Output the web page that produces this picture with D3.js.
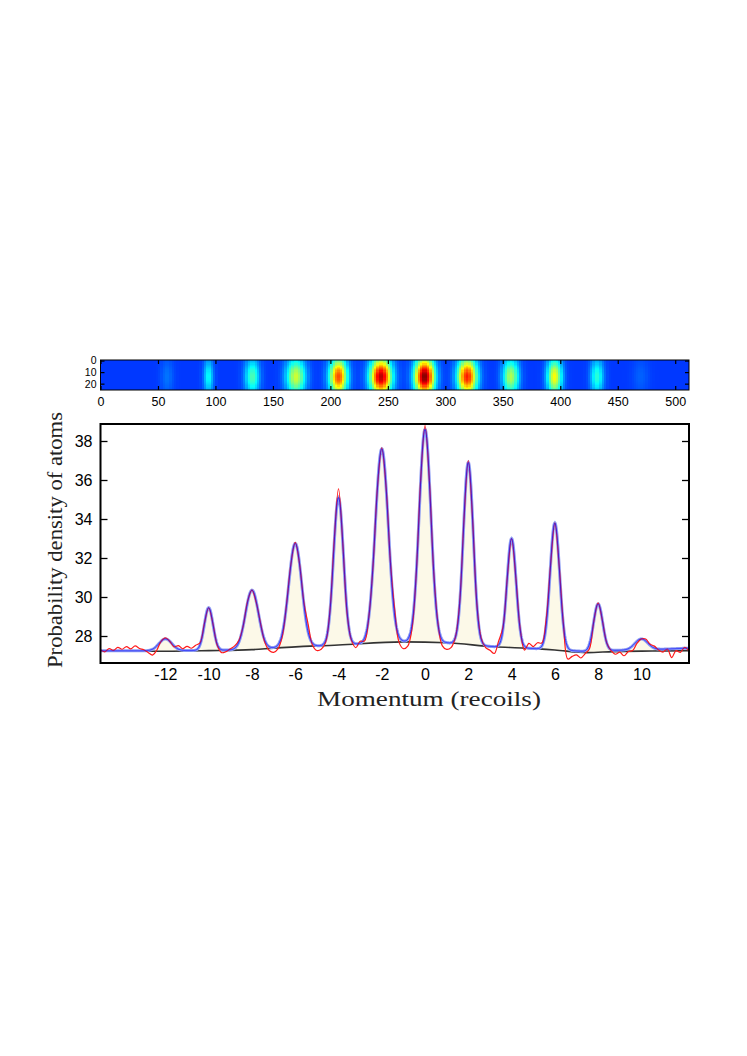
<!DOCTYPE html>
<html>
<head>
<meta charset="utf-8">
<script src="https://cdn.jsdelivr.net/npm/d3@7"></script>
<style>
  body { margin: 0; background: #fff; }
</style>
</head>
<body>
<svg id="fig" width="747" height="1056"></svg>
<script>
// fitted peaks: momentum (recoils), top of the blue fit, gaussian width
const peakMomentum = [-12.0, -10.0, -8.0, -6.0, -4.0, -2.0, 0.0, 2.0, 4.0, 6.0, 8.0, 10.0];
const peakTop      = [27.85, 29.45, 30.35, 32.75, 35.1, 37.6, 38.6, 36.9, 33.0, 33.8, 29.65, 27.85];
const peakWidth    = [0.3, 0.2, 0.3, 0.3, 0.23, 0.3, 0.27, 0.23, 0.21, 0.22, 0.21, 0.3];

// slowly varying background: black line and the fit's own background
const baseKnots = [-15, -12, -10, -8, -7, -4, -1, 1, 3.2, 4.6, 6, 7.5, 8.7, 10.5, 12.2];
const baseLevel = [27.22, 27.22, 27.25, 27.3, 27.38, 27.54, 27.7, 27.65, 27.45, 27.38, 27.28, 27.15, 27.2, 27.23, 27.25];
const fitLevel  = [27.24, 27.24, 27.26, 27.3, 27.38, 27.54, 27.7, 27.65, 27.45, 27.38, 27.3, 27.2, 27.26, 27.3, 27.38];

// measured profile minus fit, every 0.2 recoil starting at -15
const dataStart = -15, dataStep = 0.2;
const residual = [
  0.05, -0.05, 0.12, 0.02, 0.18, 0.08, 0.22, 0.1, 0.25, 0.12,
  0.05, -0.1, -0.3, -0.22, 0.0, 0.05, 0.0, -0.05, 0.18, 0.08,
  0.22, 0.12, 0.25, 0.1, 0.05, 0.0, 0.02, -0.05, -0.15, -0.08,
  0.05, 0.12, 0.08, 0.0, 0.05, 0.0, -0.05, 0.05, -0.1, -0.2,
  -0.25, -0.2, -0.15, 0.05, 0.0, 0.05, 0.0, 0.1, 0.4, -0.1,
  -0.25, -0.2, -0.1, 0.05, 0.15, 0.45, 0.0, -0.1, -0.05, -0.2,
  0.1, -0.15, 0.0, -0.05, 0.0, 0.05, 0.0, 0.05, 0.3, -0.3,
  -0.4, -0.35, -0.2, 0.0, 0.05, 0.2, 0.0, 0.0, 0.05, -0.3,
  -0.35, -0.25, 0.0, 0.05, 0.0, 0.1, 0.0, 0.0, 0.05, -0.1,
  -0.2, -0.35, 0.2, 0.1, 0.0, 0.0, 0.0, 0.05, -0.2, 0.25,
  0.1, 0.3, 0.15, 0.3, 0.0, 0.0, 0.0, 0.05, -0.6, -0.3,
  -0.2, -0.35, -0.15, -0.25, 0.0, 0.05, 0.0, 0.0, -0.05, -0.2,
  -0.1, -0.3, -0.15, -0.25, -0.1, 0.0, 0.1, 0.05, 0.1, -0.05,
  -0.15, 0.0, -0.45, -0.1, -0.2, 0.05, -0.15
];

const xTicks = [-12, -10, -8, -6, -4, -2, 0, 2, 4, 6, 8, 10];
const yTicks = [28, 30, 32, 34, 36, 38];

// camera image strip above the plot
const stripTicks = [0, 50, 100, 150, 200, 250, 300, 350, 400, 450, 500];
const stripRowTicks = [0, 10, 20];
const blobCol   = [58, 94, 132, 170, 207, 244, 282, 319, 357, 395, 432, 470];
const blobLevel = [0.24, 0.38, 0.45, 0.58, 0.8, 0.95, 1.0, 0.85, 0.55, 0.62, 0.42, 0.22];
const blobWidth = [4, 3, 4.5, 6, 5.5, 6.5, 6, 6, 5, 4.5, 4, 5];
const blobRow = 14, blobHeight = 11;
const stripBackground = 0.18;

const svg = d3.select('#fig');

// ---------- main plot ----------
const plotLeft = 100.5, plotRight = 689, plotTop = 424, plotBottom = 663;
const x = d3.scaleLinear().domain([-15, 12.2]).range([plotLeft, plotRight]);
const y = d3.scaleLinear().domain([28, 38]).range([636, 441]);

const base = d3.scaleLinear().domain(baseKnots).range(baseLevel);
const fitBase = d3.scaleLinear().domain(baseKnots).range(fitLevel);
const amps = peakMomentum.map((c, i) => peakTop[i] - fitBase(c));

function fit(m) {
  let v = fitBase(m);
  peakMomentum.forEach((c, i) => {
    v += amps[i] * Math.exp(-(m - c) * (m - c) / (2 * peakWidth[i] * peakWidth[i]));
  });
  return v;
}

const fine = d3.range(-15, 12.2001, 0.02);
const data = residual.map((r, i) => {
  const m = dataStart + i * dataStep;
  return [m, fit(m) + r];
});

const plot = svg.append('g');
plot.append('defs').append('clipPath').attr('id', 'clip')
  .append('rect').attr('x', plotLeft).attr('y', plotTop)
  .attr('width', plotRight - plotLeft).attr('height', plotBottom - plotTop);
const inner = plot.append('g').attr('clip-path', 'url(#clip)');

inner.append('path')
  .datum(fine)
  .attr('d', d3.area()
    .x(d => x(d))
    .y0(d => y(base(d)))
    .y1(d => y(Math.max(base(d), fit(d)))))
  .attr('fill', '#fcf9e8');

inner.append('path')
  .datum(baseKnots.map((k, i) => [k, baseLevel[i]]))
  .attr('d', d3.line().x(d => x(d[0])).y(d => y(d[1])).curve(d3.curveMonotoneX))
  .attr('fill', 'none').attr('stroke', '#333').attr('stroke-width', 1.6);

const fitLine = d3.line().x(d => x(d)).y(d => y(fit(d)));
inner.append('path').datum(fine).attr('d', fitLine)
  .attr('fill', 'none').attr('stroke', '#8d9cf2').attr('stroke-width', 3);

inner.append('path').datum(data)
  .attr('d', d3.line().x(d => x(d[0])).y(d => y(d[1])).curve(d3.curveCatmullRom.alpha(0.5)))
  .attr('fill', 'none').attr('stroke', '#ff1a1a').attr('stroke-width', 1.2)
  .attr('stroke-linejoin', 'round');

inner.append('path').datum(fine).attr('d', fitLine)
  .attr('fill', 'none').attr('stroke', '#1010ff').attr('stroke-width', 1)
  .attr('opacity', 0.75);

// axes
plot.append('g').attr('transform', `translate(${plotLeft},0)`)
  .call(d3.axisLeft(y).tickValues(yTicks).tickSizeInner(-7).tickSizeOuter(0).tickPadding(8));
plot.append('g').attr('transform', `translate(${plotRight},0)`)
  .call(d3.axisRight(y).tickValues(yTicks).tickSizeInner(-7).tickSizeOuter(0).tickFormat(''));
plot.append('g').attr('transform', `translate(0,${plotBottom})`)
  .call(d3.axisBottom(x).tickValues(xTicks).tickSize(0).tickPadding(6).tickFormat(d => d < 0 ? '-' + Math.abs(d) : d));

plot.selectAll('.domain').remove();
plot.selectAll('.tick line').attr('stroke', '#000').attr('stroke-width', 1.3);
plot.selectAll('.tick text')
  .attr('fill', '#000')
  .style('font-family', '"Liberation Sans", Arial, sans-serif')
  .style('font-size', '16px');

plot.append('rect')
  .attr('x', plotLeft).attr('y', plotTop)
  .attr('width', plotRight - plotLeft).attr('height', plotBottom - plotTop)
  .attr('fill', 'none').attr('stroke', '#000').attr('stroke-width', 2);

plot.append('text')
  .attr('x', 429).attr('y', 706)
  .attr('text-anchor', 'middle')
  .attr('textLength', 224).attr('lengthAdjust', 'spacingAndGlyphs')
  .style('font-family', '"Liberation Serif", "Times New Roman", serif')
  .style('font-size', '22px').attr('fill', '#222')
  .text('Momentum (recoils)');

plot.append('text')
  .attr('transform', 'translate(62,540) rotate(-90)')
  .attr('text-anchor', 'middle')
  .attr('textLength', 256).attr('lengthAdjust', 'spacingAndGlyphs')
  .style('font-family', '"Liberation Serif", "Times New Roman", serif')
  .style('font-size', '21px').attr('fill', '#222')
  .text('Probability density of atoms');

// ---------- camera strip ----------
const sx = d3.scaleLinear().domain([0, 512]).range([100.5, 689]);
const sy = d3.scaleLinear().domain([-0.5, 25.5]).range([360, 390]);
const jet = d3.scaleLinear()
  .domain([0, 0.125, 0.375, 0.625, 0.875, 1])
  .range(['#00007f', '#0000ff', '#00ffff', '#ffff00', '#ff0000', '#7f0000'])
  .clamp(true);

const cols = d3.range(0, 512, 2);
const rows = d3.range(0, 26);
function level(u, r) {
  let v = stripBackground;
  const gy = Math.exp(-(r - blobRow) * (r - blobRow) / (2 * blobHeight * blobHeight));
  blobCol.forEach((c, j) => {
    const gx = Math.exp(-(u - c) * (u - c) / (2 * blobWidth[j] * blobWidth[j]));
    v += (blobLevel[j] - stripBackground) * gx * gy;
  });
  return v;
}

const strip = svg.append('g');
strip.selectAll('rect.cell')
  .data(d3.cross(cols, rows))
  .join('rect')
  .attr('class', 'cell')
  .attr('x', d => sx(d[0]))
  .attr('y', d => sy(d[1] - 0.5))
  .attr('width', sx(2) - sx(0) + 0.4)
  .attr('height', sy(1) - sy(0) + 0.4)
  .attr('fill', d => jet(level(d[0] + 1, d[1])))
  .attr('shape-rendering', 'crispEdges');

strip.append('g').attr('transform', 'translate(0,390)')
  .call(d3.axisBottom(sx).tickValues(stripTicks).tickSizeInner(-4).tickSizeOuter(0).tickPadding(7));
strip.append('g').attr('transform', 'translate(0,360)')
  .call(d3.axisTop(sx).tickValues(stripTicks).tickSizeInner(-4).tickSizeOuter(0).tickFormat(''));
const rowAxis = strip.append('g').attr('transform', 'translate(100.5,0)')
  .call(d3.axisLeft(sy).tickValues(stripRowTicks).tickSizeInner(-4).tickSizeOuter(0).tickPadding(4));
strip.append('g').attr('transform', 'translate(689,0)')
  .call(d3.axisRight(sy).tickValues(stripRowTicks).tickSizeInner(-4).tickSizeOuter(0).tickFormat(''));

strip.selectAll('.domain').remove();
strip.selectAll('.tick line').attr('stroke', '#000').attr('stroke-width', 1.2);
strip.selectAll('.tick text')
  .attr('fill', '#000')
  .style('font-family', '"Liberation Sans", Arial, sans-serif')
  .style('font-size', '12.5px');
rowAxis.selectAll('.tick text').style('font-size', '10.5px');

strip.append('rect')
  .attr('x', 100.5).attr('y', 360)
  .attr('width', 689 - 100.5).attr('height', 30)
  .attr('fill', 'none').attr('stroke', '#000').attr('stroke-width', 1);
</script>
</body>
</html>
